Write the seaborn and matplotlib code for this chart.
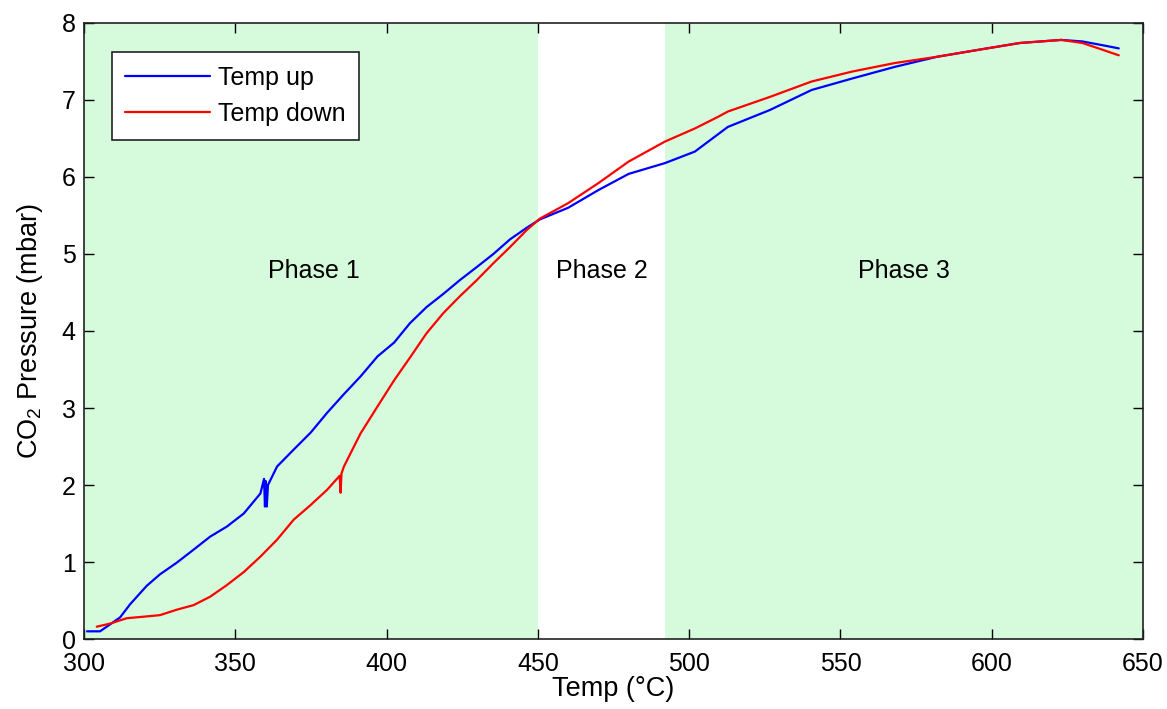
import matplotlib
matplotlib.use("Agg")
import matplotlib.pyplot as plt
import seaborn as sns
import pandas as pd

# Data
up_temp = [301, 305.3, 308.6, 311.9, 315.2, 320.7, 325.1, 330.6, 336.2, 341.7, 347.2, 352.8,
           358.3, 359.5, 359.8, 360.1, 360.4, 360.8, 363.8, 369.3, 374.9, 380.4, 385.9, 391.4,
           397, 402.5, 407.7, 413.2, 418.7, 424.2, 429.8, 435.3, 440.8, 446.3, 450.7, 460,
           470, 480, 492, 501.9, 512.8, 526.7, 540.5, 554, 568, 581.8, 595.4, 609.3, 623,
           630, 636.8, 642]
up_pres = [0.10, 0.10, 0.19, 0.28, 0.45, 0.69, 0.84, 0.99, 1.16, 1.33, 1.46, 1.63,
           1.89, 2.08, 1.72, 2.05, 1.72, 2.0, 2.24, 2.46, 2.68, 2.94, 3.18, 3.41,
           3.67, 3.85, 4.10, 4.31, 4.48, 4.66, 4.83, 5.00, 5.19, 5.34, 5.45, 5.60,
           5.83, 6.04, 6.18, 6.33, 6.65, 6.87, 7.13, 7.28, 7.43, 7.56, 7.65, 7.74, 7.78,
           7.76, 7.71, 7.67]

down_temp = [304.2, 308.6, 314.1, 319.7, 325.1, 330.6, 336.2, 341.7, 347.2, 352.8, 358.3,
             363.8, 369.3, 374.9, 380.4, 384.5, 384.8, 385.1, 385.9, 391.4, 397, 402.5, 408,
             413.2, 418.7, 424.2, 429.8, 435.3, 440.8, 446.3, 450.7, 460, 470, 480, 492,
             501.9, 509.5, 512.8, 526.7, 540.5, 554, 568, 581.8, 595.4, 609.3, 623, 630,
             636.8, 642]
down_pres = [0.16, 0.20, 0.27, 0.29, 0.31, 0.38, 0.44, 0.55, 0.70, 0.87, 1.07,
             1.29, 1.55, 1.74, 1.94, 2.12, 1.90, 2.15, 2.24, 2.67, 3.02, 3.36, 3.67,
             3.97, 4.23, 4.45, 4.66, 4.88, 5.09, 5.31, 5.46, 5.66, 5.92, 6.20, 6.46,
             6.63, 6.78, 6.85, 7.04, 7.24, 7.37, 7.48, 7.56, 7.65, 7.74, 7.78, 7.74,
             7.65, 7.58]

series_labels = ["Temp up", "Temp down"]
phase_bands = [(300, 450), (492, 650)]
phase_names = ["Phase 1", "Phase 2", "Phase 3"]
phase_x = [376, 471, 571]
phase_y = 4.78
x_ticks = [300, 350, 400, 450, 500, 550, 600, 650]
y_ticks = [0, 1, 2, 3, 4, 5, 6, 7, 8]

sns.set_style("ticks")
plt.rcParams['font.family'] = ['Liberation Sans', 'DejaVu Sans']
plt.rcParams['text.color'] = 'black'
plt.rcParams['axes.labelcolor'] = 'black'
plt.rcParams['mathtext.fontset'] = 'custom'
plt.rcParams['mathtext.rm'] = 'Liberation Sans'
plt.rcParams['mathtext.it'] = 'Liberation Sans'

fig = plt.figure(figsize=(11.67, 7.09), dpi=100)
ax = fig.add_axes([0.072, 0.0987, 0.9074, 0.8689])

for a, b in phase_bands:
    ax.axvspan(a, b, color='#d5fbdc', lw=0, zorder=0)

df_up = pd.DataFrame({"Temp": up_temp, "P": up_pres})
df_down = pd.DataFrame({"Temp": down_temp, "P": down_pres})
sns.lineplot(data=df_up, x="Temp", y="P", ax=ax, color='#0000ff', lw=1.6,
             label=series_labels[0], sort=False, estimator=None)
sns.lineplot(data=df_down, x="Temp", y="P", ax=ax, color='#ff0000', lw=1.6,
             label=series_labels[1], sort=False, estimator=None)

for name, xp in zip(phase_names, phase_x):
    ax.text(xp, phase_y, name, ha='center', va='center', fontsize=18, color='black')

ax.set_xlim(300, 650)
ax.set_ylim(0, 8)
ax.set_xticks(x_ticks)
ax.set_yticks(y_ticks)
ax.tick_params(direction='in', length=7, width=1, top=True, right=True,
               labelsize=18, colors='black')
ax.tick_params(axis='x', pad=9)
ax.tick_params(axis='y', pad=6)
for s in ax.spines.values():
    s.set_color('#222222')
    s.set_linewidth(1.2)
ax.set_xlabel("Temp (°C)", fontsize=19.5, labelpad=0)
ax.set_ylabel("CO$_2$ Pressure (mbar)", fontsize=19.5, labelpad=12)

leg = ax.legend(loc='upper left', bbox_to_anchor=(0.026, 0.953), borderaxespad=0,
                fontsize=18, frameon=True, fancybox=False, handlelength=3.4,
                handletextpad=0.3, labelspacing=0.5, borderpad=0.55)
leg.get_frame().set_edgecolor('#222222')
leg.get_frame().set_linewidth(1.2)
leg.get_frame().set_facecolor('white')
leg.get_frame().set_alpha(1)

fig.savefig("out.png", dpi=100)
